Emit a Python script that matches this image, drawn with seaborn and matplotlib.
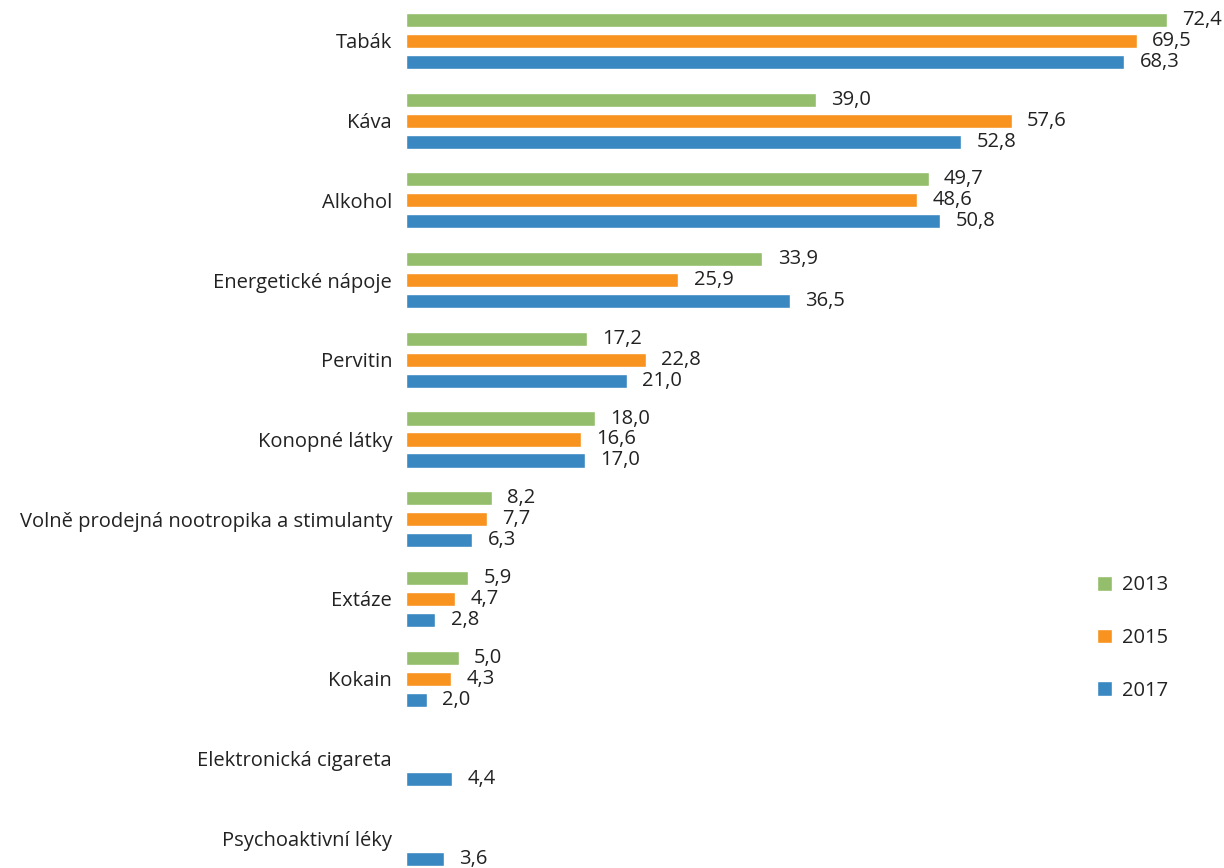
import numpy as np
import pandas as pd
import matplotlib
matplotlib.use("Agg")
import matplotlib.pyplot as plt
import seaborn as sns

categories = [
    "Tabák", "Káva", "Alkohol", "Energetické nápoje", "Pervitin",
    "Konopné látky", "Volně prodejná nootropika a stimulanty", "Extáze",
    "Kokain", "Elektronická cigareta", "Psychoaktivní léky",
]
years = ["2013", "2015", "2017"]
values_2013 = [72.4, 39.0, 49.7, 33.9, 17.2, 18.0, 8.2, 5.9, 5.0, np.nan, np.nan]
values_2015 = [69.5, 57.6, 48.6, 25.9, 22.8, 16.6, 7.7, 4.7, 4.3, np.nan, np.nan]
values_2017 = [68.3, 52.8, 50.8, 36.5, 21.0, 17.0, 6.3, 2.8, 2.0, 4.4, 3.6]
colors = ["#94BE6B", "#F7931E", "#3A88C1"]

df = pd.DataFrame({
    "kategorie": categories * 3,
    "rok": np.repeat(years, len(categories)),
    "hodnota": values_2013 + values_2015 + values_2017,
}).dropna()

sns.set_theme(style="white")
plt.rcParams["font.family"] = ["Open Sans", "DejaVu Sans"]
FS = 14.5

fig = plt.figure(figsize=(12.24, 8.68), dpi=100)
ax = fig.add_axes([406 / 1224, 0.0, 1 - 406 / 1224, 1.0])

sns.barplot(
    data=df, y="kategorie", x="hodnota", hue="rok",
    order=categories, hue_order=years, palette=colors, saturation=1,
    orient="h", width=0.79, gap=0.33, ax=ax, errorbar=None,
)

# popisky hodnot s desetinnou čárkou
for cont in ax.containers:
    labels = [f"{v:.1f}".replace(".", ",") for v in cont.datavalues]
    ax.bar_label(cont, labels=labels, padding=11, fontsize=FS, color="#222222")

ax.set_xlim(0, 77.8)
ax.set_ylim(10.376, -0.514)
ax.set_xlabel("")
ax.set_ylabel("")
ax.set_xticks([])
sns.despine(ax=ax, left=True, bottom=True)
ax.tick_params(axis="y", length=0, pad=10, labelsize=FS, labelcolor="#222222")

leg = ax.legend(
    loc="upper left", bbox_to_anchor=(0.822, 0.358), frameon=False,
    fontsize=FS, handlelength=0.75, handleheight=0.75, handletextpad=0.5,
    labelspacing=1.62,
)
for t in leg.get_texts():
    t.set_color("#222222")

fig.savefig("out.png", dpi=100)
